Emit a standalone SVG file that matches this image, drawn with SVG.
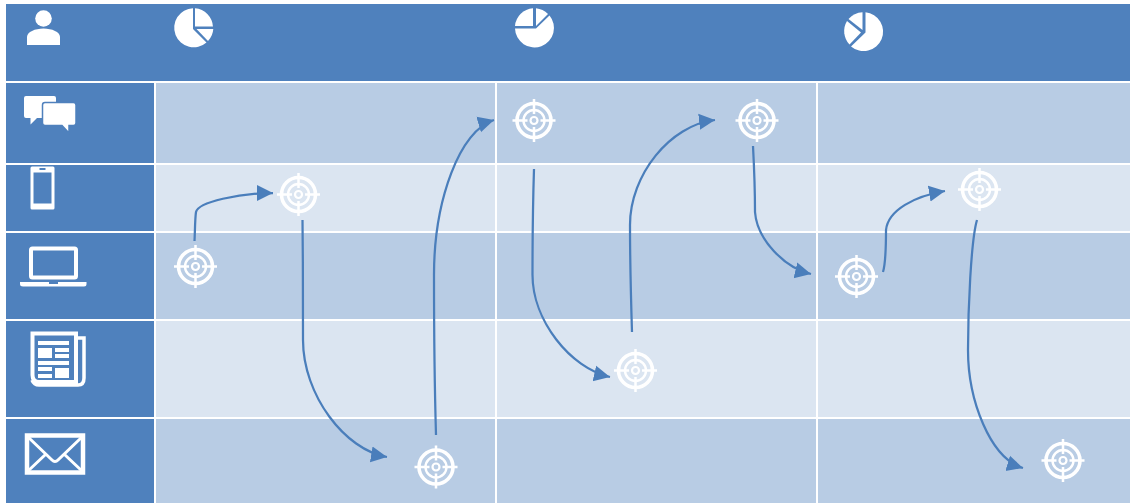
<svg xmlns="http://www.w3.org/2000/svg" width="1130" height="503" viewBox="0 0 1130 503">
<style>
.hd{fill:#4f81bd}.dk{fill:#b8cce4}.lt{fill:#dbe5f1}
.w{fill:#fff}.ws{fill:none;stroke:#fff}
.c{fill:none;stroke:#4a7ebb;stroke-width:2.250;marker-end:url(#a)}
</style>
<defs>
<marker id="a" markerUnits="userSpaceOnUse" markerWidth="18" markerHeight="18" refX="16" refY="8.500" orient="auto"><path d="M0 0.500L16 8.500L0 16.500Z" fill="#4a7ebb"/></marker>
<g id="t">
<circle r="17" class="ws" stroke-width="3.600"/>
<circle r="10.500" class="ws" stroke-width="2.400"/>
<circle r="3.500" class="ws" stroke-width="2.200"/>
<path d="M0-21.500V-6.500M0 6.500V21.500M-21.500 0H-6.500M6.500 0H21.500" class="ws" stroke-width="2.500"/>
</g>
</defs>
<rect width="1130" height="503" fill="#fff"/>
<g id="grid">
<rect class="hd" x="6" y="4" width="1124" height="77"/>
<rect class="hd" x="6" y="83" width="148" height="80"/>
<rect class="hd" x="6" y="165" width="148" height="66"/>
<rect class="hd" x="6" y="233" width="148" height="86"/>
<rect class="hd" x="6" y="321" width="148" height="96"/>
<rect class="hd" x="6" y="419" width="148" height="84"/>
<rect class="dk" x="156" y="83" width="339" height="80"/><rect class="dk" x="497" y="83" width="319" height="80"/><rect class="dk" x="818" y="83" width="312" height="80"/>
<rect class="lt" x="156" y="165" width="339" height="66"/><rect class="lt" x="497" y="165" width="319" height="66"/><rect class="lt" x="818" y="165" width="312" height="66"/>
<rect class="dk" x="156" y="233" width="339" height="86"/><rect class="dk" x="497" y="233" width="319" height="86"/><rect class="dk" x="818" y="233" width="312" height="86"/>
<rect class="lt" x="156" y="321" width="339" height="96"/><rect class="lt" x="497" y="321" width="319" height="96"/><rect class="lt" x="818" y="321" width="312" height="96"/>
<rect class="dk" x="156" y="419" width="339" height="84"/><rect class="dk" x="497" y="419" width="319" height="84"/><rect class="dk" x="818" y="419" width="312" height="84"/>
</g>
<g id="icon-person" class="w">
<circle cx="43.500" cy="18.500" r="8.300"/>
<path d="M27 45V37C27 32 35 28.500 43.500 28.500S60 32 60 37V45Z"/>
</g>
<g id="icon-chat">
<path class="w" d="M26 96H54Q56 96 56 98V118H37L30.500 124.500V118H26Q24 118 24 116V98Q24 96 26 96Z"/>
<path class="w" stroke="#4f81bd" stroke-width="1.500" d="M45 102.500H73.500Q76 102.500 76 105V123Q76 125.500 73.500 125.500H69V133L62 125.500H45Q42.500 125.500 42.500 123V105Q42.500 102.500 45 102.500Z"/>
</g>
<g id="icon-phone">
<rect class="w" x="30.500" y="166.500" width="24" height="43" rx="1.500"/>
<rect class="hd" x="33.500" y="172.500" width="18" height="31"/>
<rect class="hd" x="39.500" y="168" width="6" height="2"/>
</g>
<g id="icon-laptop">
<rect class="ws" x="31" y="248.500" width="45" height="29" rx="1.500" stroke-width="4"/>
<path class="w" d="M20 282H49V284H58V282H86.500V284Q86.500 286.500 84 286.500H23Q20 286.500 20 284Z"/>
</g>
<g id="icon-news">
<path class="ws" d="M32.500 333.500H76V382H39Q32.500 382 32.500 375Z" stroke-width="4"/>
<path class="ws" d="M77 338H84V378Q84 385 78 385H39Q34 385 32 380" stroke-width="3.500"/>
<path class="w" d="M38 341H69V345H38ZM38 348H52V358H38ZM55 348H69V352H55ZM55 354H69V358H55ZM38 361H69V365H38ZM38 367H52V371H38ZM55 368H69V378H55ZM38 374H52V378H38Z"/>
</g>
<g id="icon-mail">
<rect class="ws" x="27" y="435.500" width="56" height="37" stroke-width="4.500"/>
<path class="ws" d="M28 437L52 460Q55 463 58 460L82 437M28 471L46 454M82 471L64 454" stroke-width="3"/>
</g>
<g id="pie-1" class="w">
<path d="M195 8.300A19.500 19.500 0 0 1 213 27V26.500H195Z"/>
<path d="M196.500 29H213.300A19.500 19.500 0 0 1 208 41Z"/>
<path d="M193 8.300V29L206.500 42.500A19.500 19.500 0 1 1 193 8.300Z"/>
</g>
<g id="pie-2" class="w">
<path d="M533 8.200V26H515A19.500 19.500 0 0 1 533 8.200Z"/>
<path d="M536 8.200A19.500 19.500 0 0 1 548 14L536 26Z"/>
<path d="M549.500 15.500A19.500 19.500 0 1 1 515 28.500H536Z"/>
</g>
<g id="pie-3" class="w">
<path d="M865.500 12.200A19.500 19.500 0 1 1 851 46.500L865.500 32.500Z"/>
<path d="M862.500 12.200V30L848.500 19A19.500 19.500 0 0 1 862.500 12.200Z"/>
<path d="M847 21L861 32.500L849.500 44.500A19.500 19.500 0 0 1 847 21Z"/>
</g>
<g id="connectors">
<path class="c" d="M194.500 241C195 232 195 218 196 212C198 202 240 193 273 193"/>
<path class="c" d="M302.500 220C303 260 303 310 303 340C303 395 345 450 387 457"/>
<path class="c" d="M436 435C435 400 434 330 434 275C434 200 460 130 494 120"/>
<path class="c" d="M534 169C533 200 532.500 240 532.500 275C532.500 320 570 368 610 377"/>
<path class="c" d="M632 332C631 300 630 260 630 225C630 175 670 125 715 120"/>
<path class="c" d="M753 146C754 165 755 190 755 212C757 240 785 268 811 274"/>
<path class="c" d="M883 272C886 262 886 245 886 230C888 210 915 196 945 191"/>
<path class="c" d="M977 220C971 240 968 310 968 350C968 400 990 458 1023 468"/>
</g>
<use id="target-1" href="#t" x="195.500" y="266.500"/>
<use id="target-2" href="#t" x="298.500" y="194.500"/>
<use id="target-3" href="#t" x="436" y="467"/>
<use id="target-4" href="#t" x="534" y="120.500"/>
<use id="target-5" href="#t" x="635.500" y="370.500"/>
<use id="target-6" href="#t" x="757" y="120.500"/>
<use id="target-7" href="#t" x="856.500" y="276.500"/>
<use id="target-8" href="#t" x="979.500" y="189.500"/>
<use id="target-9" href="#t" x="1063" y="460.500"/>
</svg>
